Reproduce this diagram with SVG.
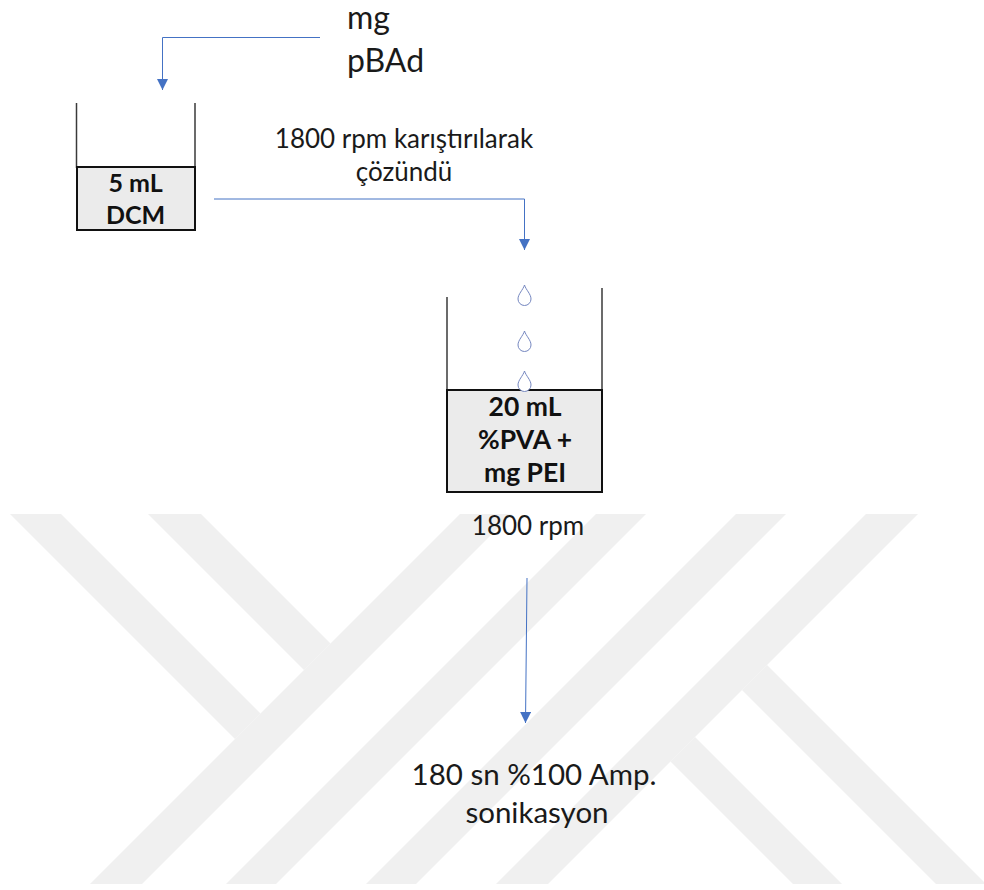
<svg xmlns="http://www.w3.org/2000/svg" width="984" height="890" viewBox="0 0 984 890">
<style>
.wm{fill:#F0F0F0}
.t{font-family:Lato,"Open Sans","Liberation Sans",sans-serif;fill:#1a1a1a}
.b{font-family:Lato,"Open Sans","Liberation Sans",sans-serif;font-weight:bold;fill:#111}
.wall{stroke:#3a3a3a;stroke-width:1.5;fill:none}
.liq{fill:#EBEBEB;stroke:#111;stroke-width:2}
.conn{fill:none;stroke:#4472C4;stroke-width:1}
.drop{fill:#fff;stroke:#7587C0;stroke-width:1}
</style>
<defs>
<marker id="arr" markerWidth="12" markerHeight="12" refX="11" refY="5.5" orient="auto" markerUnits="userSpaceOnUse">
<path d="M0,0 L11,5.5 L0,11 Z" fill="#4472C4"/>
</marker>
</defs>
<rect width="984" height="890" fill="#fff"/>
<g id="watermark">
<polygon class="wm" points="10,514 61,514 260.5,713.5 235,739"/>
<polygon class="wm" points="148,514 201,514 330.5,643.5 304,670"/>
<polygon class="wm" points="90,884 142,884 512,514 460,514"/>
<polygon class="wm" points="226,884 276,884 646,514 596,514"/>
<polygon class="wm" points="366,884 416,884 786,514 736,514"/>
<polygon class="wm" points="496,884 548,884 918,514 866,514"/>
<polygon class="wm" points="670.5,761.5 695,737 842,884 793,884"/>
<polygon class="wm" points="742,690 767,665 984,882 984,884 936,884"/>
</g>
<g id="connectors">
<path class="conn" d="M320,37.5 H162.5 V90" marker-end="url(#arr)"/>
<path class="conn" d="M214,199 H524.5 V250" marker-end="url(#arr)"/>
<path class="conn" d="M527,578 L525.5,723" marker-end="url(#arr)"/>
</g>
<g id="pbad">
<text class="t" x="347" y="29" font-size="32">mg</text>
<text class="t" x="347" y="72" font-size="32">pBAd</text>
</g>
<g id="beaker1">
<line class="wall" x1="76.5" y1="103" x2="76.5" y2="168"/>
<line class="wall" x1="195" y1="103" x2="195" y2="168"/>
<rect class="liq" x="77" y="167" width="118" height="63"/>
<text class="b" x="135.5" y="192" font-size="25" text-anchor="middle">5 mL</text>
<text class="b" x="135.5" y="224" font-size="25" text-anchor="middle">DCM</text>
</g>
<g id="label-mix">
<text class="t" x="404" y="148" font-size="26" text-anchor="middle">1800 rpm karıştırılarak</text>
<text class="t" x="404" y="181" font-size="26" text-anchor="middle">çözündü</text>
</g>
<g id="beaker2">
<line class="wall" x1="447" y1="297" x2="447" y2="391"/>
<line class="wall" x1="602" y1="288" x2="602" y2="391"/>
<rect class="liq" x="447" y="390" width="155" height="102"/>
<path class="drop" d="M524.5,285 C523,290 518,294 518,299 A6.5,6.5 0 0 0 531,299 C531,294 526,290 524.5,285 Z"/>
<path class="drop" d="M524.5,331 C523,336 518,340 518,345 A6.5,6.5 0 0 0 531,345 C531,340 526,336 524.5,331 Z"/>
<path class="drop" d="M524.5,371 C523,376 518,380 518,385 A6.5,6.5 0 0 0 531,385 C531,380 526,376 524.5,371 Z"/>
<text class="b" x="525" y="416" font-size="26.5" text-anchor="middle">20 mL</text>
<text class="b" x="525" y="449" font-size="26.5" text-anchor="middle">%PVA +</text>
<text class="b" x="525" y="482" font-size="26.5" text-anchor="middle">mg PEI</text>
</g>
<g id="label-rpm">
<text class="t" x="528" y="535" font-size="26" text-anchor="middle">1800 rpm</text>
</g>
<g id="sonication">
<text class="t" x="534" y="785" font-size="29.5" text-anchor="middle">180 sn %100 Amp.</text>
<text class="t" x="537" y="823" font-size="29.5" text-anchor="middle">sonikasyon</text>
</g>
</svg>
